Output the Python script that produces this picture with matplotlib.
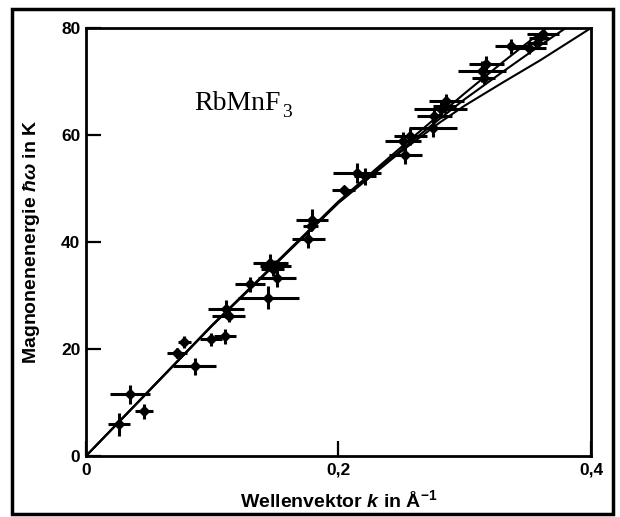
import matplotlib
matplotlib.use("Agg")
import matplotlib.pyplot as plt
from matplotlib.patches import Rectangle

# Measured magnon energies of RbMnF3 (wave vector in 1/Angstrom, energy in K)
k_meas = [0.026, 0.035, 0.046, 0.072, 0.078, 0.086, 0.099, 0.110, 0.111, 0.113,
          0.130, 0.1445, 0.146, 0.150, 0.151, 0.148, 0.176, 0.179, 0.178, 0.204,
          0.215, 0.221, 0.253, 0.251, 0.257, 0.275, 0.276, 0.281, 0.2855, 0.284,
          0.3136, 0.317, 0.315, 0.337, 0.351, 0.357, 0.362, 0.359]
e_meas = [5.9, 11.5, 8.4, 19.2, 21.3, 16.8, 21.8, 22.4, 27.5, 26.1,
          32.1, 29.6, 36.1, 35.5, 33.3, 34.9, 40.5, 44.2, 43.0, 49.8,
          52.9, 52.3, 56.3, 58.8, 59.8, 61.3, 63.5, 64.8, 66.3, 65.4,
          71.9, 73.2, 70.7, 76.6, 76.3, 77.2, 78.8, 78.1]
k_err = [0.0086, 0.016, 0.007, 0.008, 0.005, 0.017, 0.009, 0.009, 0.014, 0.013,
         0.012, 0.024, 0.014, 0.012, 0.015, 0.009, 0.013, 0.013, 0.006, 0.009,
         0.019, 0.009, 0.013, 0.014, 0.013, 0.019, 0.014, 0.021, 0.014, 0.009,
         0.019, 0.014, 0.009, 0.013, 0.013, 0.008, 0.013, 0.008]
e_err = [2.2, 1.7, 1.4, 0.9, 1.1, 1.6, 1.2, 1.4, 1.7, 1.0,
         1.4, 2.2, 1.6, 1.2, 1.7, 1.2, 1.7, 1.9, 0.9, 0.7,
         1.9, 1.6, 1.7, 1.7, 1.6, 1.6, 1.2, 1.6, 1.4, 1.2,
         1.9, 1.6, 1.2, 1.4, 1.2, 1.1, 1.1, 0.9]

# Calculated dispersion curves for three crystal directions
k_curve_a = [0.0, 0.10, 0.20, 0.25, 0.28, 0.30, 0.33, 0.36, 0.40]
e_curve_a = [0.0, 24.4, 47.3, 57.0, 62.3, 65.5, 69.8, 74.0, 80.0]
k_curve_b = [0.0, 0.10, 0.20, 0.25, 0.28, 0.30, 0.33, 0.36, 0.38]
e_curve_b = [0.0, 24.4, 47.4, 57.3, 63.0, 66.7, 71.8, 76.8, 80.0]
k_curve_c = [0.0, 0.10, 0.20, 0.25, 0.28, 0.30, 0.33, 0.35, 0.365]
e_curve_c = [0.0, 24.5, 47.6, 57.8, 63.8, 67.8, 73.6, 77.3, 80.0]

x_ticks = [0.0, 0.2, 0.4]
x_tick_labels = ["0", "0,2", "0,4"]
y_ticks = [0, 20, 40, 60, 80]
y_tick_labels = ["0", "20", "40", "60", "80"]

plt.rcParams["font.family"] = ["Liberation Sans", "DejaVu Sans"]
plt.rcParams["mathtext.fontset"] = "custom"
plt.rcParams["mathtext.it"] = "Liberation Sans:italic:bold"
plt.rcParams["mathtext.rm"] = "Liberation Sans:bold"
plt.rcParams["mathtext.bf"] = "Liberation Sans:bold"

fig = plt.figure(figsize=(6.2, 5.17), dpi=100)
ax = fig.add_axes([0.1387, 0.118, 0.8145, 0.8278])

for kc, ec in ((k_curve_a, e_curve_a), (k_curve_b, e_curve_b), (k_curve_c, e_curve_c)):
    ax.plot(kc, ec, color="black", lw=1.5, solid_capstyle="round", zorder=2)

ax.errorbar(k_meas, e_meas, xerr=k_err, yerr=e_err, fmt="D", color="black",
            ms=5, elinewidth=2.2, capsize=0, zorder=3)

ax.set_xlim(0, 0.4)
ax.set_ylim(0, 80)
ax.set_xticks(x_ticks)
ax.set_xticklabels(x_tick_labels, fontsize=12.5, fontweight="bold")
ax.set_yticks(y_ticks)
ax.set_yticklabels(y_tick_labels, fontsize=12.5, fontweight="bold")
ax.tick_params(axis="both", direction="in", length=11, width=1.6)
ax.tick_params(axis="x", pad=5)
ax.tick_params(axis="y", pad=4)
for s in ax.spines.values():
    s.set_linewidth(2.0)

ax.set_xlabel(r"Wellenvektor $k$ in Å$^{-1}$", fontsize=14, fontweight="bold", labelpad=8)
ax.set_ylabel(r"Magnonenenergie $\hbar\omega$ in K", fontsize=14, fontweight="bold", labelpad=14)

# Compound label: formula body plus a lowered subscript digit
label = ax.text(0.086, 64.7, "RbMnF", family="Liberation Serif", fontsize=20,
                ha="left", va="baseline")
fig.canvas.draw()
renderer = fig.canvas.get_renderer()
bb = label.get_window_extent(renderer).transformed(ax.transData.inverted())
ax.text(bb.x1 + 0.001, 64.7 - 1.3, "3", family="Liberation Serif", fontsize=14,
        ha="left", va="baseline")

fig.patches.append(Rectangle((0.019, 0.006), 0.970, 0.977, transform=fig.transFigure,
                             fill=False, edgecolor="black", lw=2.5, zorder=10))

fig.savefig("out.png", dpi=100)
